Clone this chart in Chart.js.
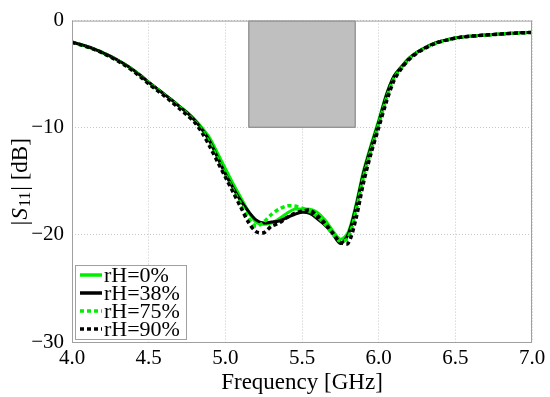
<!DOCTYPE html>
<html>
<head>
<meta charset="utf-8">
<script src="https://cdn.jsdelivr.net/npm/chart.js@4.4.0/dist/chart.umd.min.js"></script>
<style>
  html, body { margin: 0; padding: 0; background: #fff; }
  #wrap { width: 550px; height: 397px; }
</style>
</head>
<body>
<div id="wrap"><canvas id="myChart" width="550" height="397"></canvas></div>
<script>
const freq = [4.00, 4.05, 4.10, 4.15, 4.20, 4.25, 4.30, 4.35, 4.40, 4.45,
              4.50, 4.55, 4.60, 4.65, 4.70, 4.75, 4.80, 4.85, 4.90, 4.95,
              5.00, 5.05, 5.10, 5.15, 5.20, 5.25, 5.30, 5.35, 5.40, 5.45,
              5.50, 5.55, 5.60, 5.65, 5.70, 5.75, 5.80, 5.85, 5.90, 5.95,
              6.00, 6.05, 6.10, 6.15, 6.20, 6.25, 6.30, 6.35, 6.40, 6.45,
              6.50, 6.55, 6.60, 6.65, 6.70, 6.75, 6.80, 6.85, 6.90, 6.95, 7.00];

const rh0 = [-2.02, -2.22, -2.45, -2.71, -3.01, -3.35, -3.73, -4.15, -4.63, -5.18,
             -5.78, -6.33, -6.87, -7.40, -7.98, -8.55, -9.22, -10.05, -11.00, -12.40,
             -13.80, -15.20, -16.50, -17.80, -18.80, -19.00, -18.90, -18.50, -18.00, -17.60,
             -17.60, -17.60, -17.90, -18.60, -19.60, -20.40, -19.80, -17.30, -14.10, -11.60,
             -9.30, -6.90, -5.20, -4.25, -3.48, -2.95, -2.55, -2.20, -1.95, -1.78,
             -1.62, -1.52, -1.45, -1.40, -1.35, -1.30, -1.25, -1.20, -1.16, -1.13, -1.10];

const rh38 = [-2.00, -2.20, -2.42, -2.68, -2.98, -3.32, -3.70, -4.12, -4.60, -5.15,
              -5.75, -6.30, -6.85, -7.40, -8.00, -8.60, -9.30, -10.20, -11.30, -12.80,
              -14.30, -15.60, -16.80, -17.80, -18.60, -18.90, -18.80, -18.70, -18.40, -18.10,
              -17.90, -18.00, -18.50, -19.10, -19.90, -20.80, -20.00, -17.50, -14.30, -11.80,
              -9.50, -7.00, -5.20, -4.30, -3.50, -2.95, -2.55, -2.20, -1.95, -1.78,
              -1.62, -1.52, -1.45, -1.40, -1.35, -1.30, -1.25, -1.20, -1.16, -1.13, -1.10];

const rh75 = [-2.02, -2.22, -2.45, -2.70, -3.00, -3.35, -3.74, -4.17, -4.66, -5.22,
              -5.82, -6.37, -6.92, -7.48, -8.08, -8.70, -9.40, -10.30, -11.50, -12.90,
              -14.40, -15.80, -17.10, -18.40, -19.20, -18.80, -18.10, -17.60, -17.30, -17.30,
              -17.50, -17.80, -18.30, -19.00, -19.90, -20.60, -20.30, -17.90, -14.70, -12.10,
              -9.70, -7.30, -5.40, -4.40, -3.58, -3.00, -2.58, -2.23, -1.97, -1.79,
              -1.63, -1.53, -1.46, -1.40, -1.35, -1.30, -1.25, -1.20, -1.16, -1.13, -1.10];

const rh90 = [-2.03, -2.23, -2.46, -2.72, -3.03, -3.38, -3.78, -4.22, -4.72, -5.30,
              -5.90, -6.45, -7.00, -7.58, -8.20, -8.82, -9.50, -10.50, -11.80, -13.20,
              -14.60, -16.00, -17.40, -18.80, -19.70, -19.80, -19.20, -18.90, -18.40, -18.00,
              -17.80, -17.70, -18.20, -18.90, -19.80, -20.70, -20.80, -18.60, -15.20, -12.40,
              -10.00, -7.60, -5.60, -4.45, -3.62, -3.03, -2.60, -2.25, -1.98, -1.80,
              -1.64, -1.53, -1.46, -1.40, -1.35, -1.30, -1.25, -1.20, -1.16, -1.13, -1.10];

const seriesLabels = ['rH=0%', 'rH=38%', 'rH=75%', 'rH=90%'];
const xTicks = [4.0, 4.5, 5.0, 5.5, 6.0, 6.5, 7.0];
const yTicks = [-30, -20, -10, 0];
// shaded band: 5.15 - 5.85 GHz, 0 to -10 dB
const bandFreq = [5.15, 5.85];
const bandDb = [-10, 0];

const GREEN = '#00ee00';
const SERIF = "'Liberation Serif', 'Times New Roman', serif";

const pts = ys => freq.map((f, i) => ({ x: f, y: ys[i] }));

const ctx = document.getElementById('myChart').getContext('2d');

const frame = {
    id: 'frame',
    beforeDatasetsDraw(chart) {
        const { ctx, scales: { x, y } } = chart;
        const x1 = x.getPixelForValue(bandFreq[0]);
        const x2 = x.getPixelForValue(bandFreq[1]);
        const y1 = y.getPixelForValue(bandDb[1]);
        const y2 = y.getPixelForValue(bandDb[0]);
        ctx.save();
        ctx.fillStyle = '#bfbfbf';
        ctx.strokeStyle = '#808080';
        ctx.lineWidth = 1;
        ctx.fillRect(x1, y1, x2 - x1, y2 - y1);
        ctx.strokeRect(x1 + 0.5, y1 + 0.5, x2 - x1 - 1, y2 - y1 - 1);
        ctx.restore();
    },
    afterDraw(chart) {
        const { ctx, chartArea: a } = chart;
        ctx.save();
        ctx.strokeStyle = '#a0a0a0';
        ctx.lineWidth = 1;
        ctx.strokeRect(a.left + 0.5, a.top + 0.5, a.right - a.left - 1, a.bottom - a.top);

        // x title
        ctx.fillStyle = '#000';
        ctx.font = '23px ' + SERIF;
        ctx.textAlign = 'center';
        ctx.textBaseline = 'middle';
        ctx.fillText('Frequency [GHz]', (a.left + a.right) / 2, 383);

        // y title |S11| [dB]
        ctx.translate(21, (a.top + a.bottom) / 2);
        ctx.rotate(-Math.PI / 2);
        const parts = [
            { t: '|', f: '24px ' + SERIF, dy: 0 },
            { t: 'S', f: 'italic 23px ' + SERIF, dy: 0 },
            { t: '11', f: '16px ' + SERIF, dy: 5 },
            { t: '| [dB]', f: '23px ' + SERIF, dy: 0 }
        ];
        let w = 0;
        parts.forEach(p => { ctx.font = p.f; p.w = ctx.measureText(p.t).width + 1; w += p.w; });
        let px = -w / 2;
        ctx.textAlign = 'left';
        parts.forEach(p => { ctx.font = p.f; ctx.fillText(p.t, px, p.dy); px += p.w; });
        ctx.restore();

        // legend
        ctx.save();
        ctx.fillStyle = '#fff';
        ctx.fillRect(75, 265, 111, 74);
        ctx.strokeStyle = '#a0a0a0';
        ctx.strokeRect(75.5, 265.5, 111, 74);
        ctx.font = '22px ' + SERIF;
        ctx.textBaseline = 'middle';
        const legendOrder = [0, 1, 2, 3];
        legendOrder.forEach((di, r) => {
            const ds = chart.data.datasets[di];
            const yy = 275 + r * 18;
            ctx.strokeStyle = ds.borderColor;
            ctx.lineWidth = 3.5;
            ctx.setLineDash(ds.borderDash || []);
            ctx.beginPath();
            ctx.moveTo(80, yy);
            ctx.lineTo(102, yy);
            ctx.stroke();
            ctx.setLineDash([]);
            ctx.fillStyle = '#000';
            ctx.fillText(ds.label, 104, yy + 1);
        });
        ctx.restore();
    }
};

const myChart = new Chart(ctx, {
    type: 'line',
    data: {
        datasets: [
            { label: seriesLabels[0], data: pts(rh0), borderColor: GREEN, borderWidth: 3, order: 4 },
            { label: seriesLabels[1], data: pts(rh38), borderColor: '#000', borderWidth: 3, order: 3 },
            { label: seriesLabels[2], data: pts(rh75), borderColor: GREEN, borderWidth: 3.5, borderDash: [4, 3], order: 2 },
            { label: seriesLabels[3], data: pts(rh90), borderColor: '#000', borderWidth: 3.5, borderDash: [4, 3], order: 1 }
        ]
    },
    options: {
        responsive: false,
        animation: false,
        layout: { padding: { top: 11, right: 18, left: 0, bottom: 0 } },
        elements: { point: { radius: 0 }, line: { tension: 0.3 } },
        plugins: { legend: { display: false }, tooltip: { enabled: false } },
        scales: {
            x: {
                type: 'linear',
                min: 4, max: 7,
                afterFit: s => { s.height = 55; },
                afterBuildTicks: s => { s.ticks = xTicks.map(v => ({ value: v })); },
                ticks: {
                    color: '#000',
                    font: { family: SERIF, size: 21 },
                    padding: 4,
                    maxRotation: 0,
                    callback: v => v.toFixed(1)
                },
                grid: { color: '#c8c8c8', drawTicks: false },
                border: { display: false, dash: [1, 2] }
            },
            y: {
                min: -30, max: 0,
                afterFit: s => { s.width = 72; },
                afterBuildTicks: s => { s.ticks = yTicks.map(v => ({ value: v })); },
                ticks: {
                    color: '#000',
                    font: { family: SERIF, size: 21 },
                    padding: 8,
                    callback: v => v < 0 ? '\u2212' + (-v) : String(v)
                },
                grid: { color: '#c8c8c8', drawTicks: false },
                border: { display: false, dash: [1, 2] }
            }
        }
    },
    plugins: [frame]
});
</script>
</body>
</html>
